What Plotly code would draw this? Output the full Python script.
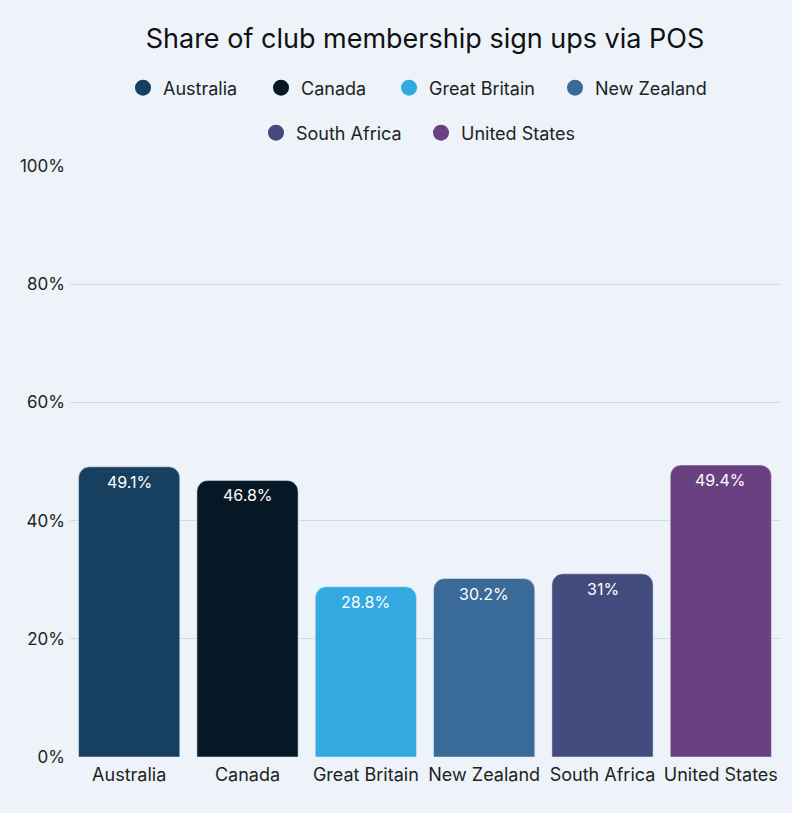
import plotly.graph_objects as go

# Datos
paises = ["Australia", "Canada", "Great Britain", "New Zealand", "South Africa", "United States"]
porcentajes = [49.1, 46.8, 28.8, 30.2, 31.0, 49.4]
etiquetas = ["49.1%", "46.8%", "28.8%", "30.2%", "31%", "49.4%"]
colores = ["#173F5F", "#061826", "#33A9E2", "#3A6A98", "#434A7D", "#6A4081"]

fondo = "#EDF3F9"

# Posición (px) del círculo de cada entrada de leyenda: 4 en la primera fila, 2 en la segunda
leyenda_x = [143, 281, 409, 575, 276, 441]
leyenda_y = [88, 88, 88, 88, 133, 133]

fig = go.Figure()

nombres_leyenda = ["legend"] + [f"legend{i}" for i in range(2, 7)]

for pais, valor, color, ley in zip(paises, porcentajes, colores, nombres_leyenda):
    # Barra (sin leyenda, la leyenda va con círculos)
    fig.add_trace(go.Bar(
        x=[pais],
        y=[valor],
        name=pais,
        marker=dict(color=color, cornerradius=11),
        showlegend=False,
    ))
    # Entrada de leyenda con círculo
    fig.add_trace(go.Scatter(
        x=[None],
        y=[None],
        mode="markers",
        name=pais,
        marker=dict(color=color, size=18, symbol="circle"),
        legend=ley,
    ))

# Etiquetas blancas dentro de la parte alta de cada barra
for pais, valor, etiqueta in zip(paises, porcentajes, etiquetas):
    fig.add_annotation(
        x=pais,
        y=valor,
        text=etiqueta,
        showarrow=False,
        yanchor="top",
        yshift=-3,
        font=dict(color="white", size=16, family="Inter"),
    )

leyendas = {}
for ley, lx, ly in zip(nombres_leyenda, leyenda_x, leyenda_y):
    leyendas[ley] = dict(
        orientation="h",
        x=(lx - 20) / 792,
        xanchor="left",
        xref="container",
        y=1 - ly / 813,
        yanchor="middle",
        yref="container",
        font=dict(size=18, color="#222222"),
        itemwidth=30,
        bgcolor="rgba(0,0,0,0)",
    )

fig.update_layout(
    title=dict(
        text="Share of club membership sign ups via POS",
        x=0.5,
        xref="paper",
        xanchor="center",
        y=0.953,
        yanchor="middle",
        font=dict(size=27, color="#111111", family="Inter"),
    ),
    paper_bgcolor=fondo,
    plot_bgcolor=fondo,
    font=dict(family="Inter", color="#222222"),
    barmode="overlay",
    bargap=0.145,
    width=792,
    height=813,
    margin=dict(l=70, r=12, t=166, b=56, autoexpand=False),
    xaxis=dict(
        tickfont=dict(size=18, color="#222222"),
        showgrid=False,
        showline=False,
        ticklabelstandoff=5,
    ),
    yaxis=dict(
        range=[0, 100],
        tickvals=[0, 20, 40, 60, 80, 100],
        ticktext=["0%", "20%", "40%", "60%", "80%", "100%"],
        tickfont=dict(size=17, color="#222222"),
        gridcolor="#D3DAE3",
        gridwidth=1,
        zeroline=False,
        ticklabelstandoff=4,
    ),
    **leyendas,
)

fig.write_html(
    "out.html",
    config={"displayModeBar": False},
    post_script="document.body.style.margin='0';",
)
